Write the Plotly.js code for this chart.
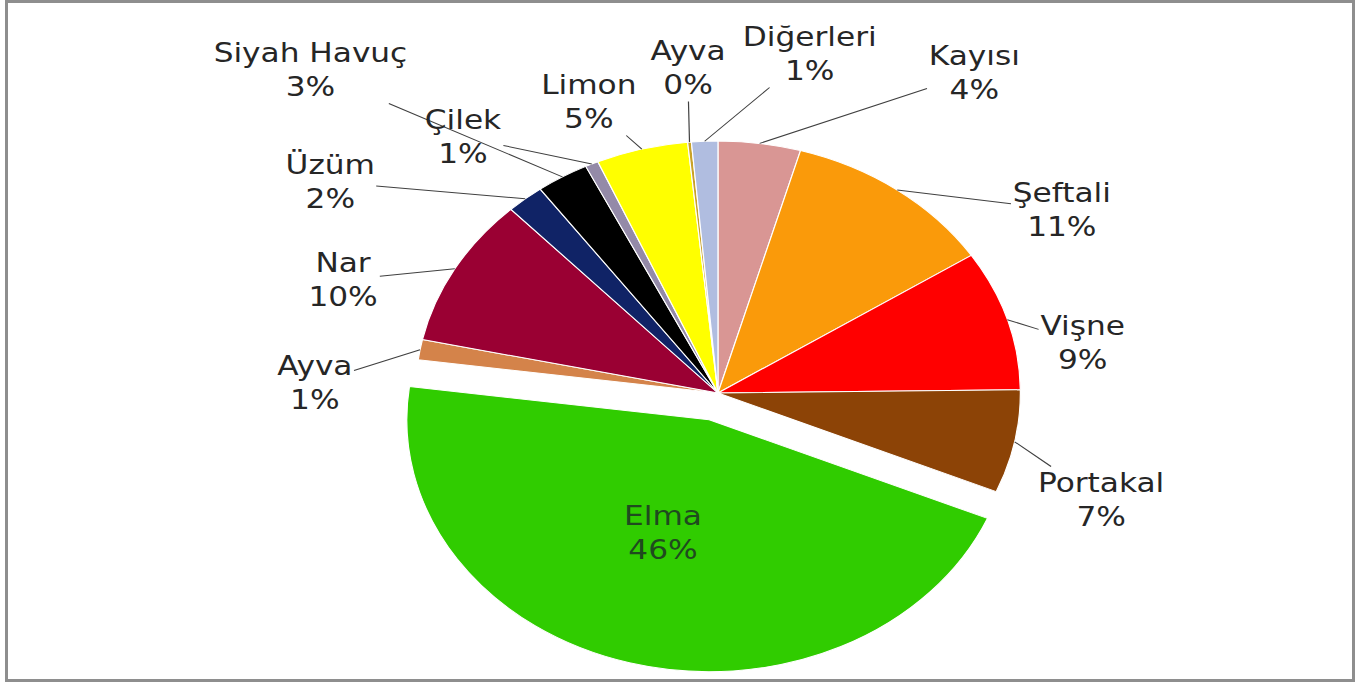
<!DOCTYPE html>
<html><head><meta charset="utf-8">
<script src="https://cdn.plot.ly/plotly-3.0.1.min.js"></script>
<style>
html,body{margin:0;padding:0;background:#fff;overflow:hidden;}
#wrap{position:relative;width:1363px;height:683px;overflow:hidden;background:#fff;}
#chart{position:absolute;left:0;top:0;width:1136px;height:683px;transform-origin:0 0;transform:scaleX(1.2);}
#frame{position:absolute;left:5px;top:0;width:1350px;height:682px;box-sizing:border-box;border:3px solid #8e8e8e;pointer-events:none;}
</style></head><body>
<div id="wrap"><div id="chart"></div><div id="frame"></div></div>
<script>
// ---- data ----
const categories = ['Kayısı','Şeftali','Vişne','Portakal','Elma','Ayva','Nar','Üzüm','Siyah Havuç','Çilek','Limon','Ayva','Diğerleri'];
const shares = [4.4, 11.4, 9.0, 6.6, 45.7, 1.3, 9.6, 2.0, 2.8, 0.7, 4.9, 0.2, 1.4];

// ---- styles ----
const colors = ['#d99694','#fa9a0a','#ff0000','#8c4306','#30cc00','#d4834a','#9a0033','#102366','#000000','#948aa8','#ffff00','#c9a227','#b0bde0'];
const pulls  = [0,0,0,0,0.11,0,0,0,0,0,0,0,0];
// label text-box centres (unstretched px)
const labelPos = [[812,73],[885,210],[902,343],[917,500],[552,533],[262,383],[286,280],[275,182],[258,70],[386,137],[490,102],[573,68],[675,54]];

const W0 = 1136, H = 683;
const cxPx = 598.3, cyPx = 393, R = 252, maxPull = 0.11;
const boxH = 2 * R * (1 + maxPull);
const domY = [1 - (cyPx + boxH / 2) / H, 1 - (cyPx - boxH / 2) / H];
const domX = [(cxPx - boxH / 2 - 6) / W0, (cxPx + boxH / 2 + 6) / W0];

const total = shares.reduce((a, b) => a + b, 0);
const annotations = [];
let cum = 0;
shares.forEach((v, i) => {
  const mid = (cum + v / 2) / total * 2 * Math.PI;
  cum += v;
  const pct = Math.round(v / total * 100) + '%';
  const txt = categories[i] + '<br>' + pct;
  const [lx, ly] = labelPos[i];
  if (pulls[i] > 0) {
    annotations.push({xref:'paper', yref:'paper', x: lx / W0, y: 1 - ly / H, text: txt, showarrow:false,
      font:{family:'DejaVu Sans', size:26, color:'#1f4a1f'}, xanchor:'center', yanchor:'middle'});
  } else {
    const tx = cxPx + R * Math.sin(mid), ty = cyPx - R * Math.cos(mid);
    annotations.push({xref:'paper', yref:'paper', x: tx / W0, y: 1 - ty / H, ax: lx - tx, ay: ly - ty,
      axref:'pixel', ayref:'pixel', text: txt, showarrow:true, arrowhead:0, arrowwidth:1, arrowcolor:'#404040',
      standoff:0, font:{family:'DejaVu Sans', size:26, color:'#262626'}});
  }
});

const trace = {
  type:'pie', values: shares, labels: categories.map((c, i) => i + ' ' + c),
  sort:false, direction:'clockwise', rotation:0, pull: pulls,
  marker:{colors: colors, line:{color:'#ffffff', width:1}},
  textinfo:'none', hoverinfo:'skip', showlegend:false,
  domain:{x: domX, y: domY}
};
const layout = {
  width: W0, height: H, margin:{l:0, r:0, t:0, b:0},
  paper_bgcolor:'rgba(0,0,0,0)', plot_bgcolor:'rgba(0,0,0,0)',
  showlegend:false, annotations: annotations
};
Plotly.newPlot('chart', [trace], layout, {staticPlot:true, displayModeBar:false});
</script>
</body></html>
